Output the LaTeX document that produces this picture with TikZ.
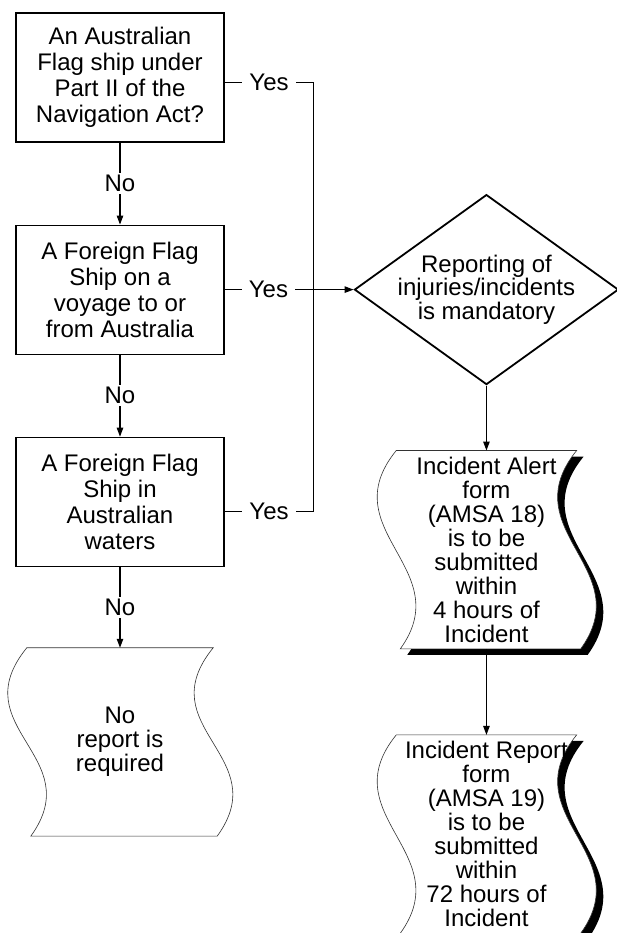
\documentclass[tikz,border=0pt]{standalone}
\usepackage{fontspec}
\setmainfont{Liberation Sans}
\usetikzlibrary{arrows.meta,positioning,shapes.geometric,backgrounds}
\tikzset{
  >={Triangle[length=9pt,width=6.5pt]},
  box/.style={draw,line width=1.1pt,align=center,minimum width=208pt,minimum height=129pt,inner sep=2pt,font=\fontsize{24}{26}\selectfont},
  decision/.style={draw,diamond,aspect=1.39,line width=1.8pt,align=center,minimum width=264pt,minimum height=190pt,inner sep=-5pt,font=\fontsize{24}{23.5}\selectfont},
  tape/.style={align=center,minimum width=180pt,minimum height=198pt,inner sep=0pt,font=\fontsize{24}{24}\selectfont},
  paper/.style={fill=white,draw=black!80,line width=.6pt},
  answer/.style={fill=white,inner xsep=7pt,inner ysep=2pt,font=\fontsize{24}{24}\selectfont},
  arrow/.style={->,line width=1.1pt},
  line/.style={line width=1.1pt},
}
% wavy sheet round a node, shifted by (#2,#3)
\newcommand{\tapeoutline}[3]{([shift={(#2,#3)}]#1.north west) -- ([shift={(#2,#3)}]#1.north east)
  .. controls +(-65,-80) and +(58,80) .. ([shift={(#2+4,#3)}]#1.south east)
  -- ([shift={(#2+4,#3)}]#1.south west)
  .. controls +(58,80) and +(-65,-80) .. ([shift={(#2,#3)}]#1.north west) -- cycle}

\begin{document}
\begin{tikzpicture}[x=1pt,y=1pt]
\useasboundingbox (0,0) rectangle (617,-933);
% questions
\node[box] (q1) at (120,-77.5) {An Australian\\Flag ship under\\Part II of the\\Navigation Act?};
\node[box,below=82pt of q1] (q2) {A Foreign Flag\\Ship on a\\voyage to or\\from Australia};
\node[box,below=82pt of q2] (q3) {A Foreign Flag\\Ship in\\Australian\\waters};
\node[tape,below=81pt of q3,minimum width=186pt,minimum height=188pt] (none) {No\\report is\\required};
% right column
\node[decision,right=129pt of q2] (dia) {Reporting of\\injuries/incidents\\is mandatory};
\node[tape,below=65pt of dia] (alert) {Incident Alert\\form\\(AMSA 18)\\is to be\\submitted\\within\\4 hours of\\Incident};
\node[tape,below=86pt of alert] (report) {Incident Report\\form\\(AMSA 19)\\is to be\\submitted\\within\\72 hours of\\Incident};
\coordinate[right=89pt of q1] (bus);

\begin{scope}[on background layer]
  \draw[paper] \tapeoutline{none}{0}{0};
  \fill \tapeoutline{alert}{7}{-6};
  \draw[paper] \tapeoutline{alert}{0}{0};
  \fill \tapeoutline{report}{7}{-6};
  \draw[paper] \tapeoutline{report}{0}{0};
\end{scope}

\draw[arrow] (q1) -- node[answer]{No} (q2);
\draw[arrow] (q2) -- node[answer]{No} (q3);
\draw[arrow] (q3) -- node[answer]{No} (none);
\draw[line] ([yshift=-5pt]q1.east) -- node[answer]{Yes} ([yshift=-5pt]q1.east -| bus)
  -- ([yshift=-10pt]q3.east -| bus) -- node[answer]{Yes} ([yshift=-10pt]q3.east);
\draw[arrow] (q2) -- node[answer,pos=0.34]{Yes} (dia);
\draw[arrow] (dia) -- (alert);
\draw[arrow] (alert) -- (report);
\end{tikzpicture}
\end{document}
